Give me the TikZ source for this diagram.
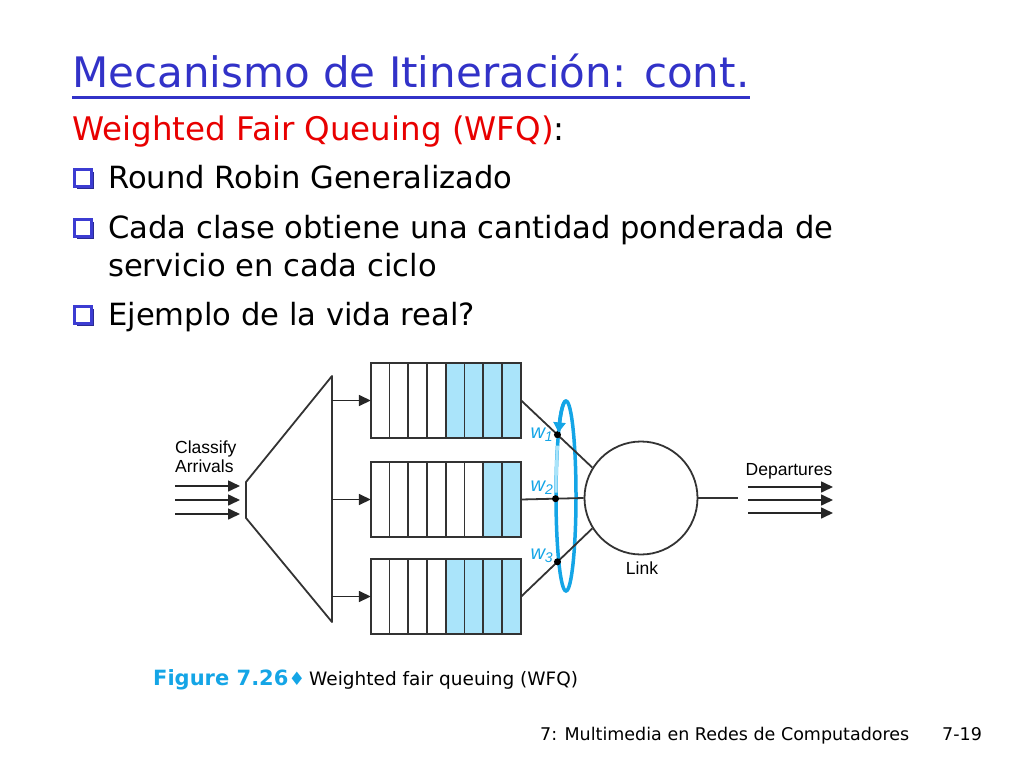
\documentclass[tikz,border=0pt]{standalone}
\usepackage{fontspec}
\setmainfont{DejaVu Sans}
\newfontfamily\figfont{Liberation Sans}
\usetikzlibrary{positioning,arrows.meta,shadows}
\definecolor{titleblue}{RGB}{50,50,200}
\definecolor{slidered}{RGB}{232,0,0}
\definecolor{boxblue}{RGB}{60,60,210}
\definecolor{figcyan}{RGB}{20,165,230}
\definecolor{cellblue}{RGB}{170,228,250}
\newcommand{\fs}[1]{\fontsize{#1}{1.2\dimexpr#1pt\relax}\selectfont}
\begin{document}
\begin{tikzpicture}[x=1pt,y=-1pt,
    every node/.style={inner sep=0pt},
    bulletbox/.style={draw=boxblue,fill=white,line width=2.2pt,minimum size=17pt,
        drop shadow={shadow xshift=2pt,shadow yshift=-2pt,fill=boxblue!70!black,opacity=1}},
    flow/.style={line width=1.6pt,black!85,-{Triangle[length=12pt,width=11pt]}},
    figline/.style={line width=1.8pt,black!80},
    wdot/.style={circle,fill=black,minimum size=7pt},
    wlab/.style={text=figcyan,font=\figfont\fs{20}\itshape},
    figlab/.style={font=\figfont\fs{17.5}}]
    \useasboundingbox (0,0) rectangle (1024,768);
    % slide text
    \node[anchor=base west,text=titleblue,font=\fs{42}] (title) at (72,87) {Mecanismo de Itineración: cont.};
    \draw[titleblue,line width=3pt] ([yshift=-10pt]title.base west) -- ([yshift=-10pt]title.base east);
    \node[anchor=base west,font=\fs{32.5}] (wfq) at (72,140) {\textcolor{slidered}{Weighted Fair Queuing (WFQ)}:};
    \node[anchor=base west,font=\fs{30.6}] (b1) at (108,188) {Round Robin Generalizado};
    \node[anchor=base west,font=\fs{30.6}] (b2) at (108,238) {Cada clase obtiene una cantidad ponderada de};
    \node[anchor=base west,font=\fs{30.6}] (b2b) at (108,276) {servicio en cada ciclo};
    \node[anchor=base west,font=\fs{30.6}] (b3) at (108,325) {Ejemplo de la vida real?};
    \foreach \b in {b1,b2,b3}
        \node[bulletbox] at ([xshift=-25pt,yshift=10pt]\b.base west) {};
    % classifier
    \coordinate (ctop) at (332,376);
    \coordinate (cbot) at (332,622);
    \coordinate (clsR) at (332,500);
    \draw[figline,line join=round] (246,482) -- (ctop) -- (cbot) -- (246,518) -- cycle;
    \node[figlab,align=left,anchor=north west] (arr) at (175,441) {Classify\\[-2pt]Arrivals};
    \coordinate (inL) at (175,500);
    \coordinate (inR) at (240,500);
    \foreach \s in {-14,0,14}
        \draw[flow] ([yshift=\s pt]inL) -- ([yshift=\s pt]inR);
    % queues
    \foreach \i/\y/\nb in {1/400.5/4,2/499.5/2,3/596.5/4}{
        \path node[minimum width=150pt,minimum height=75pt] (q\i) at (446,\y) {};
        \fill[cellblue] ([xshift=-\nb*18.75pt]q\i.north east) rectangle (q\i.south east);
        \foreach \k in {1,...,7}
            \draw[figline] ([xshift=\k*18.75pt]q\i.north west) -- ([xshift=\k*18.75pt]q\i.south west);
        \draw[figline] (q\i.north west) rectangle (q\i.south east);
        \draw[flow] (clsR |- q\i.west) -- (q\i.west);
    }
    % link
    \node[draw,circle,line width=1.8pt,black!80,minimum size=113pt] (link) at (641,498) {};
    \node[figlab,anchor=base] (linklab) at (642,574) {Link};
    \coordinate (rr) at (566,496);
    \draw[figcyan,line width=3.5pt] (rr) ellipse [x radius=10,y radius=95];
    \draw[cellblue,line width=3pt] (rr) ++(-148:10 and 95) arc[start angle=-148,end angle=-178,x radius=10,y radius=95];
    \draw[figline] (q1.east) -- (link.148) node[wdot,pos=0.51] (w1) {};
    \draw[figline] (q2.east) -- (link.west) node[wdot,pos=0.55] (w2) {};
    \draw[figline] (q3.east) -- (link.212) node[wdot,pos=0.51] (w3) {};
    \draw[figcyan,line width=3.5pt,-{Triangle[length=10pt,width=12pt]}] (rr) ++(-90:10 and 95) arc[start angle=-90,end angle=-138,x radius=10,y radius=95];
    \node[wlab,anchor=base east] at ([xshift=-4pt,yshift=-4pt]w1.center) {w\textsubscript{1}};
    \node[wlab,anchor=base east] at ([xshift=-2pt,yshift=7pt]w2.center) {w\textsubscript{2}};
    \node[wlab,anchor=base east] at ([xshift=-4pt,yshift=2pt]w3.center) {w\textsubscript{3}};
    % departures
    \coordinate (linkout) at (738,498);
    \draw[figline] (link.east) -- (linkout);
    \node[figlab,anchor=base] (dep) at (789,475) {Departures};
    \coordinate (outL) at (748,500);
    \coordinate (outR) at (833,500);
    \foreach \s in {-13,0,13}
        \draw[flow] ([yshift=\s pt]outL) -- ([yshift=\s pt]outR);
    % caption
    \node[anchor=base west,text=figcyan,font=\fs{21}\bfseries] (fig) at (153,685) {Figure 7.26};
    \node[anchor=base west,font=\fs{18.5}] (cap) at (309,685) {\textcolor{figcyan}{\llap{♦\hspace{4pt}}}Weighted fair queuing (WFQ)};
    % footer
    \node[anchor=base west,font=\fs{17.5}] (foot) at (540,740) {7: Multimedia en Redes de Computadores};
    \node[anchor=base west,font=\fs{17.5}] (page) at (942,740) {7-19};
\end{tikzpicture}
\end{document}
